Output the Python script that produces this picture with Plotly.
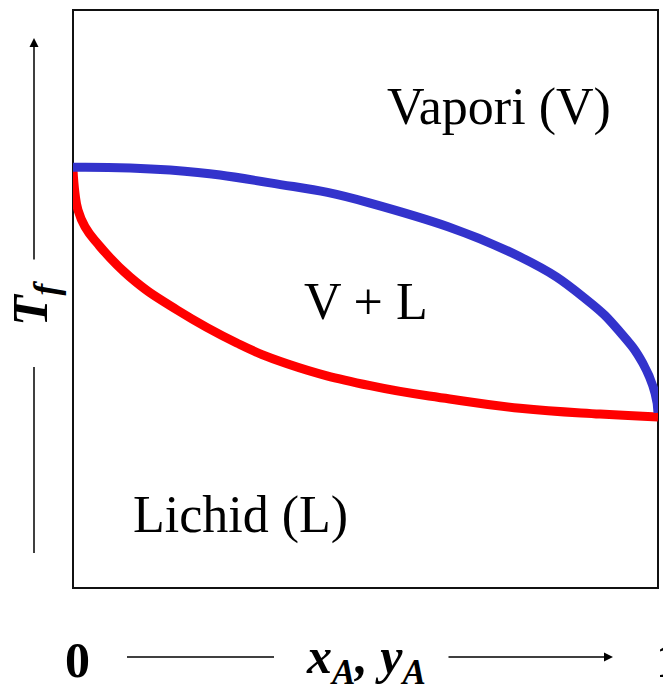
import plotly.graph_objects as go

# Dew (vapour) curve: composition fraction vs temperature (arbitrary units)
x_vap = [0.0, 0.166, 0.337, 0.508, 0.764, 0.879, 0.935, 0.974, 0.995, 1.0]
T_vap = [72.8, 72.3, 70.1, 66.6, 57.3, 49.8, 44.3, 38.9, 33.7, 30.3]

# Bubble (liquid) curve
x_liq = [0.0, 0.0034, 0.0085, 0.0205, 0.041, 0.0974, 0.178, 0.280, 0.366,
         0.508, 0.644, 0.764, 0.901, 1.0]
T_liq = [72.3, 68.3, 65.4, 62.5, 59.7, 53.8, 48.1, 42.4, 38.8,
         35.0, 32.7, 31.1, 30.1, 29.6]

region_labels = ["Vapori (V)", "V + L", "Lichid (L)"]
x_label = "<b><i>x<sub>A</sub>, y<sub>A</sub></i></b>"
y_label = "<b><i>T<sub>f</sub></i></b>"
x_ticks = ["0", "1"]

SERIF = "Liberation Serif"
W, H = 663, 691
L, R, T, B = 73, 5, 10, 103
pw, ph = W - L - R, H - T - B


def px(x):
    return (x - L) / pw


def py(y):
    return (H - B - y) / ph


fig = go.Figure()
fig.add_trace(go.Scatter(x=x_liq, y=T_liq, mode="lines",
                         line=dict(color="#ff0000", width=9, shape="spline", smoothing=1.3),
                         cliponaxis=False, hoverinfo="skip"))
fig.add_trace(go.Scatter(x=x_vap, y=T_vap, mode="lines",
                         line=dict(color="#3333cc", width=9, shape="spline", smoothing=1.3),
                         cliponaxis=False, hoverinfo="skip"))

shapes = [
    dict(type="rect", xref="paper", yref="paper", x0=0, x1=1, y0=0, y1=1,
         line=dict(color="#111111", width=2), layer="below"),
    dict(type="line", xref="paper", yref="paper", x0=px(34), x1=px(34),
         y0=py(367), y1=py(553), line=dict(color="black", width=1.5)),
    dict(type="line", xref="paper", yref="paper", x0=px(127), x1=px(274),
         y0=py(657), y1=py(657), line=dict(color="black", width=1.5)),
]


def label(x, y, text, size, angle=0):
    return dict(xref="paper", yref="paper", x=px(x), y=py(y), text=text,
                textangle=angle, showarrow=False, xanchor="center", yanchor="middle",
                font=dict(family=SERIF, size=size, color="black"))


annotations = [
    dict(xref="paper", yref="paper", x=px(34), y=py(38), ax=0, ay=261 - 38,
         axref="pixel", ayref="pixel", text="", showarrow=True,
         arrowhead=2, arrowsize=1.2, arrowwidth=1.5, arrowcolor="black"),
    dict(xref="paper", yref="paper", x=px(613), y=py(657), ax=-(613 - 447), ay=0,
         text="", showarrow=True,
         arrowhead=2, arrowsize=1.2, arrowwidth=1.5, arrowcolor="black"),
    label(34, 303, y_label, 50, -90),
    label(366, 660, x_label, 50),
    label(77, 660, "<b>" + x_ticks[0] + "</b>", 50),
    label(668, 660, "<b>" + x_ticks[1] + "</b>", 50),
    label(499, 107, region_labels[0], 52),
    label(366, 301, region_labels[1], 52),
    label(240, 515, region_labels[2], 52),
]

fig.update_layout(
    width=W, height=H,
    margin=dict(l=L, r=R, t=T, b=B, pad=0),
    paper_bgcolor="white", plot_bgcolor="white",
    showlegend=False,
    xaxis=dict(range=[0, 1], visible=False, fixedrange=True),
    yaxis=dict(range=[0, 100], visible=False, fixedrange=True),
    shapes=shapes, annotations=annotations,
)

fig.write_html("out.html", config={"displayModeBar": False},
               post_script="document.body.style.margin='0px';")
